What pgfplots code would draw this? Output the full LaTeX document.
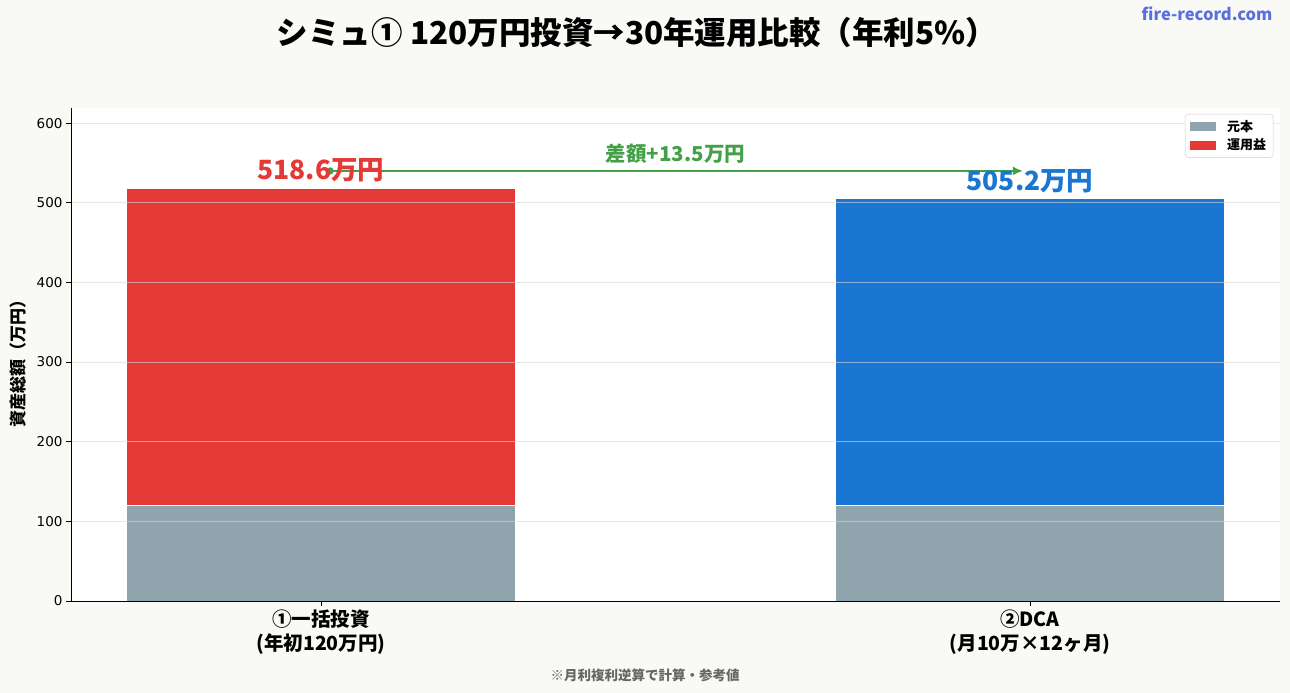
\documentclass[border=0pt]{standalone}
\usepackage{fontspec}
\usepackage{pgfplots}
\pgfplotsset{compat=1.18}
\usetikzlibrary{arrows.meta}
\newfontfamily\cjk{Noto Sans CJK JP}
\newfontfamily\dejavu{DejaVu Sans}
\definecolor{bgcol}{HTML}{F9F9F5}
\definecolor{principal}{HTML}{90A4AE}
\definecolor{gainred}{HTML}{E53935}
\definecolor{gainblue}{HTML}{1976D2}
\definecolor{diffgreen}{HTML}{43A047}
\definecolor{brand}{HTML}{5B6EE1}
\definecolor{notegray}{HTML}{666666}
\pgfplotsset{
  patch legend/.style={
    legend image code/.code={\fill[##1, draw=none, sharp corners] (0pt,-4.5pt) rectangle (26pt,4.5pt);
      \path[draw=none, fill=none] (0pt,0pt) -- (35pt,0pt);}},
}
\begin{document}
\begin{tikzpicture}[x=1pt,y=1pt]
\fill[bgcol] (0,0) rectangle (1290,693);
\begin{axis}[
  at={(71pt,92pt)}, anchor=south west,
  width=1209pt, height=493pt, scale only axis,
  ybar stacked, bar width=389pt,
  xmin=-0.3525, xmax=1.3525, ymin=0, ymax=619,
  axis background/.style={fill=white},
  axis x line*=bottom, axis y line*=left,
  axis line style={black, line width=0.9pt},
  axis on top,
  xtick={0,1},
  xticklabels={{①一括投資\\(年初120万円)},{②DCA\\(月10万×12ヶ月)}},
  xticklabel style={font=\cjk\bfseries\fontsize{19.5}{24}\selectfont, align=center, text=black},
  ytick={0,100,200,300,400,500,600},
  yticklabel style={font=\dejavu\fontsize{13.5}{15}\selectfont},
  /pgf/number format/assume math mode=true,
  tick align=outside, major tick length=5pt,
  tick style={black, line width=0.8pt},
  ymajorgrids, grid style={color=gray!30, opacity=0.6, line width=0.7pt},
  legend style={at={(0.9945,0.988)}, anchor=north east, draw=black!20, rounded corners=3pt,
    font=\cjk\bfseries\fontsize{13}{15}\selectfont, inner xsep=5pt, inner ysep=4pt,
    row sep=2pt},
  legend cell align=left,
]
% principal, then the gain of each strategy on top of it
\addplot[fill=principal, draw=white, line width=0.8pt, patch legend] coordinates {(0,120) (1,120)};
\addplot[fill=gainred, draw=white, line width=0.8pt, patch legend] coordinates {(0,398.6) (1,0)};
\addplot[fill=gainblue, draw=white, line width=0.8pt, forget plot] coordinates {(0,0) (1,385.2)};
\legend{元本, 運用益}
% totals
\node[anchor=base, text=gainred, font=\cjk\bfseries\fontsize{26.5}{30}\selectfont, yshift=8.5pt] at (axis cs:0,518.6) {518.6万円};
\node[anchor=base, text=gainblue, font=\cjk\bfseries\fontsize{26.5}{30}\selectfont, yshift=8.5pt] at (axis cs:1,505.2) {505.2万円};
% difference arrow
\draw[diffgreen, line width=2.6pt, {Circle[length=7pt]}-{Latex[length=10pt,width=9pt]}] (axis cs:0.008,540) -- (axis cs:0.99,540);
\node[anchor=base, text=diffgreen, font=\cjk\bfseries\fontsize{20.5}{24}\selectfont, yshift=9pt] at (axis cs:0.5,540) {差額+13.5万円};
\end{axis}
\node[anchor=base, font=\cjk\bfseries\fontsize{31.5}{36}\selectfont] at (637,648) {シミュ① 120万円投資→30年運用比較（年利5\%）};
\node[anchor=base east, text=brand, font=\cjk\bfseries\fontsize{16.5}{18}\selectfont] at (1276,672) {fire-record.com};
\node[rotate=90, font=\cjk\bfseries\fontsize{17}{20}\selectfont] at (18,333) {資産総額（万円）};
\node[text=notegray, font=\cjk\bfseries\fontsize{13.5}{16}\selectfont] at (645,18) {※月利複利逆算で計算・参考値};
\end{tikzpicture}
\end{document}
